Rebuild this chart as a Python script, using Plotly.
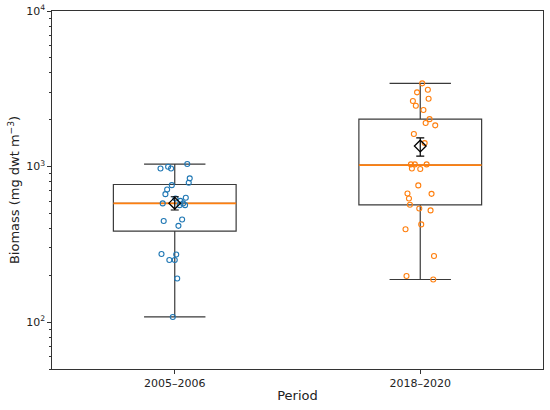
import plotly.graph_objects as go

# category labels
periods = ["2005–2006", "2018–2020"]

# box statistics (mg dwt m-3)
q1 = [385, 568]
median = [580, 1022]
q3 = [767, 2018]
lower_whisker = [108, 188]
upper_whisker = [1038, 3428]

# mean +/- standard error
means = [582, 1355]
se_up = [58, 176]
se_down = [56, 186]

# individual samples, with horizontal jitter
biomass_0506 = [1038, 973, 997, 973, 840, 787, 760, 713, 665, 630, 624, 602, 580,
                580, 565, 565, 447, 457, 416, 274, 272, 251, 251, 191, 108]
jitter_0506 = [0.051, -0.058, -0.027, -0.015, 0.061, 0.057, -0.012, -0.031, -0.038,
               0.045, 0.003, 0.023, -0.049, 0.034, 0.020, 0.042, -0.045, 0.030,
               0.015, -0.054, 0.006, -0.022, 0.0, 0.010, -0.008]
biomass_1820 = [3428, 3120, 3000, 2731, 2637, 2459, 2309, 2018, 1905, 1841, 1618,
                1416, 1033, 1033, 1033, 973, 964, 757, 672, 668, 624, 568, 538, 523,
                396, 425, 266, 198, 188]
jitter_1820 = [0.008, 0.031, -0.013, 0.034, -0.030, -0.018, 0.013, 0.038, 0.022,
               0.061, -0.026, 0.018, -0.038, -0.022, 0.026, -0.034, 0.0, -0.008,
               -0.052, 0.046, -0.046, -0.042, -0.004, 0.042, -0.060, 0.004, 0.056,
               -0.056, 0.053]

colors = ["#1f77b4", "#ff7f0e"]
box_half = 0.25
font = "DejaVu Sans"

fig = go.Figure()

for i in range(2):
    fig.add_trace(go.Box(
        x=[i], q1=[q1[i]], median=[median[i]], q3=[q3[i]],
        lowerfence=[lower_whisker[i]], upperfence=[upper_whisker[i]],
        width=2 * box_half, whiskerwidth=0.5,
        line=dict(color="#3a3a3a", width=1.2), fillcolor="rgba(0,0,0,0)",
        boxpoints=False, showlegend=False, hoverinfo="skip"))
    # median line in orange, like matplotlib
    fig.add_trace(go.Scatter(
        x=[i - box_half, i + box_half], y=[median[i], median[i]], mode="lines",
        line=dict(color="#ff7f0e", width=1.8), showlegend=False))

pts = [(biomass_0506, jitter_0506), (biomass_1820, jitter_1820)]
for i, (vals, jit) in enumerate(pts):
    fig.add_trace(go.Scatter(
        x=[i + j for j in jit], y=vals, mode="markers",
        marker=dict(symbol="circle-open", size=5, color=colors[i],
                    line=dict(width=1.1, color=colors[i])),
        showlegend=False))

fig.add_trace(go.Scatter(
    x=[0, 1], y=means, mode="markers",
    marker=dict(symbol="diamond-open", size=9, color="black",
                line=dict(width=1.3, color="black")),
    error_y=dict(type="data", symmetric=False, array=se_up, arrayminus=se_down,
                 color="black", thickness=1.2, width=4),
    showlegend=False))

major = [100, 1000, 10000]
minor = [m * d for d in (10, 100, 1000) for m in range(2, 10) if 50 <= m * d < 10000]

fig.update_layout(
    width=550, height=410,
    margin=dict(l=52, r=7, t=11, b=41),
    paper_bgcolor="white", plot_bgcolor="white",
    font=dict(family=font, size=11, color="#222"),
    xaxis=dict(
        range=[-0.5, 1.5], tickvals=[0, 1], ticktext=periods,
        ticks="outside", ticklen=3.5, tickwidth=1, tickcolor="#333",
        showline=True, linecolor="#333", linewidth=1.2, mirror=True,
        showgrid=False, zeroline=False, automargin="bottom",
        title=dict(text="Period", font=dict(size=13), standoff=2)),
    yaxis=dict(
        type="log", range=[1.699, 4],
        tickvals=major, ticktext=["10<sup>2</sup>", "10<sup>3</sup>", "10<sup>4</sup>"],
        ticks="outside", ticklen=3.5, tickwidth=1, tickcolor="#333",
        minor=dict(tickvals=minor, ticks="outside", ticklen=2, tickwidth=0.8,
                   tickcolor="#333", showgrid=False),
        showline=True, linecolor="#333", linewidth=1.2, mirror=True,
        showgrid=False, zeroline=False, automargin="left",
        title=dict(text="Biomass (mg dwt m<sup>−3</sup>)", font=dict(size=13), standoff=3)),
)

# the page body has a default 8px margin; drop it so the figure fills the window
fig.write_html("out.html", config={"displayModeBar": False},
               post_script="document.body.style.margin='0';")
